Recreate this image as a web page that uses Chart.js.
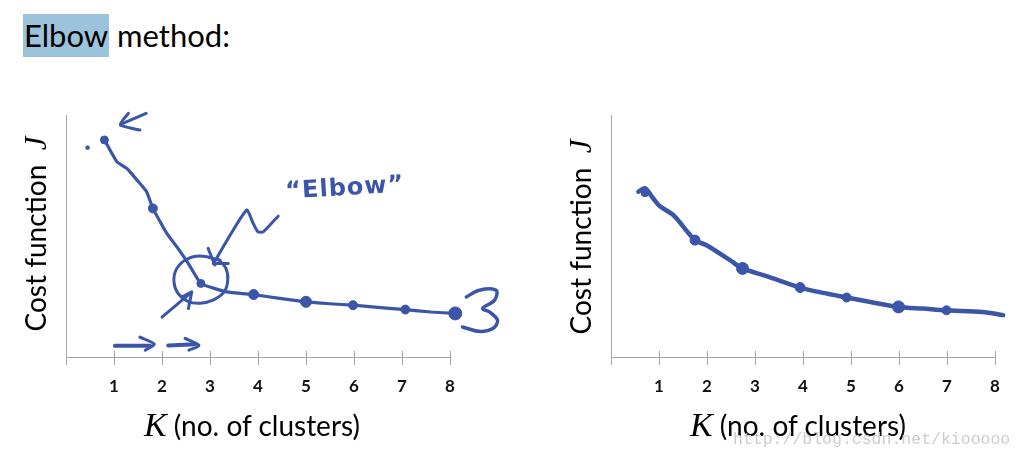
<!DOCTYPE html>
<html>
<head>
<meta charset="utf-8">
<script src="https://cdn.jsdelivr.net/npm/chart.js@4.4.1/dist/chart.umd.min.js"></script>
<style>
  html,body{margin:0;padding:0;background:#fff;width:1024px;height:460px;overflow:hidden;position:relative;}
  canvas{position:absolute;top:0;}
  .t{position:absolute;white-space:nowrap;color:#000;font-family:Lato,"Open Sans",sans-serif;}
  .ytitle{width:300px;height:30px;line-height:30px;text-align:center;font-size:28px;transform:rotate(-90deg);transform-origin:0 0;}
  .xtitle{width:300px;height:30px;line-height:30px;text-align:center;font-size:28px;}
  .m{font-family:"Liberation Serif","DejaVu Serif",serif;font-style:italic;line-height:30px;}
</style>
</head>
<body>
<div class="t" style="left:23px;top:14px;font-size:31px;line-height:43px;">
  <span style="background:#9cc3dc;display:inline-block;height:43px;padding:0 1px;">Elbow</span> method:
</div>
<canvas id="left" width="530" height="460" style="left:0;"></canvas>
<canvas id="right" width="494" height="460" style="left:530px;"></canvas>
<div class="t ytitle" style="left:20px;top:384px;">Cost function&nbsp; <span class="m" style="font-size:31px;">J</span></div>
<div class="t ytitle" style="left:565px;top:387px;">Cost function&nbsp; <span class="m" style="font-size:31px;">J</span></div>
<div class="t xtitle" style="left:102px;top:410px;"><span class="m" style="font-size:34px;">K</span> (no. of clusters)</div>
<div class="t xtitle" style="left:648px;top:410px;"><span class="m" style="font-size:34px;">K</span> (no. of clusters)</div>
<div class="t" style="left:733px;top:430px;font-family:'Liberation Mono',monospace;font-size:16.5px;color:#cdcdcd;">http://blog.csdn.net/kiooooo</div>
<script>
// ---- tick labels ----
const kTicks = [0, 1, 2, 3, 4, 5, 6, 7, 8];
const kTickLabels = ['', '1', '2', '3', '4', '5', '6', '7', '8'];

// ---- left chart: hand-drawn curve with sharp elbow ----
const kLeftMarks = [0.80, 1.81, 2.81, 3.91, 5.00, 5.98, 7.07, 8.11];
const jLeftMarks = [8.97, 6.14, 3.04, 2.58, 2.28, 2.14, 1.96, 1.80];
const kLeftPath = [0.80, 1.06, 1.27, 1.48, 1.68, 1.81, 2.10, 2.31, 2.55, 2.81, 3.35, 3.91, 4.45, 5.00, 5.50, 5.98, 6.55, 7.07, 7.60, 8.11];
const jLeftPath = [8.97, 8.07, 7.79, 7.31, 6.83, 6.14, 5.11, 4.55, 3.86, 3.04, 2.69, 2.58, 2.42, 2.28, 2.20, 2.14, 2.04, 1.96, 1.86, 1.80];

// ---- left chart: hand-written annotations (data coordinates) ----
const circleK = [3.21, 2.79, 2.48, 2.29, 2.25, 2.33, 2.54, 2.79, 3.06, 3.29, 3.37, 3.33, 3.17];
const circleJ = [4.00, 4.17, 4.00, 3.59, 3.09, 2.64, 2.30, 2.22, 2.35, 2.68, 3.17, 3.67, 4.04];
const pointerK = [3.07, 3.76, 3.90, 4.00, 4.11, 4.42];
const pointerJ = [3.86, 6.07, 5.52, 5.17, 5.17, 5.82];
const crossAK = [2.96, 3.10];
const crossAJ = [4.49, 3.80];
const crossBK = [3.07, 3.38];
const crossBJ = [3.86, 3.86];
const lowArrowK = [2.00, 2.58];
const lowArrowJ = [1.65, 2.62];
const lowHeadK = [2.41, 2.62, 2.55];
const lowHeadJ = [2.48, 2.69, 2.00];
const arrow1K = [1.02, 1.75];
const arrow1J = [0.46, 0.47];
const head1K = [1.54, 1.84, 1.65];
const head1J = [0.82, 0.53, 0.28];
const arrow2K = [2.13, 2.69];
const arrow2J = [0.48, 0.53];
const head2K = [2.48, 2.77, 2.56];
const head2J = [0.77, 0.48, 0.28];
const topShaftK = [1.67, 1.16];
const topShaftJ = [10.07, 9.63];
const topHeadK = [1.30, 1.13, 1.54];
const topHeadJ = [10.07, 9.59, 9.38];
const threeK = [8.34, 8.61, 8.96, 8.93, 8.68, 8.83, 8.99, 8.90, 8.61, 8.26];
const threeJ = [2.48, 2.76, 2.76, 2.35, 2.01, 1.85, 1.52, 1.19, 1.06, 1.24];
const dotK = [0.45];
const dotJ = [8.65];
const elbowLabel = '\u201CElbow\u201D';
const elbowAt = [5.81, 6.95];

// ---- right chart: smooth curve, no clear elbow ----
const kRightMarks = [0.71, 1.75, 2.74, 3.94, 4.91, 5.99, 6.99, 8.17];
const jRightMarks = [6.79, 4.83, 3.66, 2.87, 2.46, 2.07, 1.93, 1.73];
const kRightPath = [0.57, 0.71, 0.88, 1.02, 1.30, 1.75, 1.99, 2.48, 2.74, 3.24, 3.94, 4.42, 4.91, 5.46, 5.99, 6.50, 6.99, 7.74, 8.17];
const jRightPath = [6.83, 6.97, 6.55, 6.23, 5.86, 4.83, 4.62, 4.00, 3.66, 3.34, 2.87, 2.65, 2.46, 2.25, 2.07, 2.00, 1.93, 1.86, 1.73];

const INK = '#3b56a9';
const AXIS = '#a6a6a6';
const zip = (xs, ys) => xs.map((x, i) => ({x: x, y: ys[i]}));

function stroke(xs, ys, width, tension) {
  return {data: zip(xs, ys), showLine: true, borderColor: INK, backgroundColor: INK,
          borderWidth: width, pointRadius: 0, tension: tension || 0, clip: false,
          borderCapStyle: 'round', borderJoinStyle: 'round'};
}
function marks(xs, ys, radii) {
  return {data: zip(xs, ys), showLine: false, pointRadius: radii, pointHoverRadius: radii,
          pointBackgroundColor: INK, pointBorderColor: INK, clip: false};
}

const crossTicks = {
  id: 'crossTicks',
  afterDraw(chart) {
    const xs = chart.scales.x, ctx = chart.ctx, b = chart.chartArea.bottom;
    ctx.save();
    ctx.strokeStyle = AXIS; ctx.lineWidth = 1;
    kTicks.forEach(v => {
      const px = Math.round(xs.getPixelForValue(v)) + 0.5;
      ctx.beginPath(); ctx.moveTo(px, b - 6); ctx.lineTo(px, b + 8); ctx.stroke();
    });
    ctx.restore();
  }
};
const elbowText = {
  id: 'elbowText',
  afterDatasetsDraw(chart) {
    if (chart.canvas.id !== 'left') return;
    const ctx = chart.ctx;
    const px = chart.scales.x.getPixelForValue(elbowAt[0]);
    const py = chart.scales.y.getPixelForValue(elbowAt[1]);
    ctx.save();
    ctx.translate(px, py);
    ctx.rotate(-0.06);
    ctx.fillStyle = INK;
    ctx.font = 'bold 24px "DejaVu Sans", sans-serif';
    try { ctx.letterSpacing = '1px'; } catch (e) {}
    ctx.textAlign = 'center'; ctx.textBaseline = 'middle';
    ctx.fillText(elbowLabel, 0, 0);
    ctx.restore();
  }
};

function makeOptions(pad) {
  return {
    responsive: false, animation: false, devicePixelRatio: 1,
    layout: {padding: pad},
    plugins: {legend: {display: false}, tooltip: {enabled: false}},
    events: [],
    scales: {
      x: {type: 'linear', min: 0, max: 8,
          afterBuildTicks: s => { s.ticks = kTicks.map(v => ({value: v})); },
          afterFit: s => { s.height = 50; },
          ticks: {callback: (v, i) => kTickLabels[i], color: '#111',
                  font: {family: 'Lato', size: 17, weight: 'bold'}, padding: 19, maxRotation: 0, autoSkip: false},
          grid: {display: true, drawOnChartArea: false, drawTicks: false, color: 'rgba(0,0,0,0)'},
          border: {display: true, color: AXIS, width: 1}},
      y: {type: 'linear', min: 0, max: 10,
          afterFit: s => { s.width = 0; },
          ticks: {display: false},
          grid: {display: false, drawTicks: false},
          border: {display: true, color: AXIS, width: 1}}
    }
  };
}

new Chart(document.getElementById('left'), {
  type: 'scatter',
  data: {datasets: [
    stroke(kLeftPath, jLeftPath, 3.2, 0.12),
    marks(kLeftMarks, jLeftMarks, [4, 4.5, 4, 5, 5.5, 4.5, 4.5, 6.5]),
    stroke(circleK, circleJ, 3, 0.4),
    stroke(pointerK, pointerJ, 3, 0.2),
    stroke(crossAK, crossAJ, 3),
    stroke(crossBK, crossBJ, 3),
    stroke(lowArrowK, lowArrowJ, 3),
    stroke(lowHeadK, lowHeadJ, 3),
    stroke(arrow1K, arrow1J, 4),
    stroke(head1K, head1J, 3, 0.3),
    stroke(arrow2K, arrow2J, 4),
    stroke(head2K, head2J, 3, 0.3),
    stroke(topShaftK, topShaftJ, 3),
    stroke(topHeadK, topHeadJ, 3, 0.2),
    stroke(threeK, threeJ, 3.5, 0.35),
    marks(dotK, dotJ, 1.8)
  ]},
  options: makeOptions({left: 66, right: 80, top: 115, bottom: 53}),
  plugins: [crossTicks, elbowText]
});

new Chart(document.getElementById('right'), {
  type: 'scatter',
  data: {datasets: [
    stroke(kRightPath, jRightPath, 4.5, 0.3),
    marks(kRightMarks, jRightMarks, [4, 5, 6, 5, 4.5, 6, 4.5, 5])
  ]},
  options: makeOptions({left: 81, right: 29, top: 115, bottom: 53}),
  plugins: [crossTicks]
});
</script>
</body>
</html>
